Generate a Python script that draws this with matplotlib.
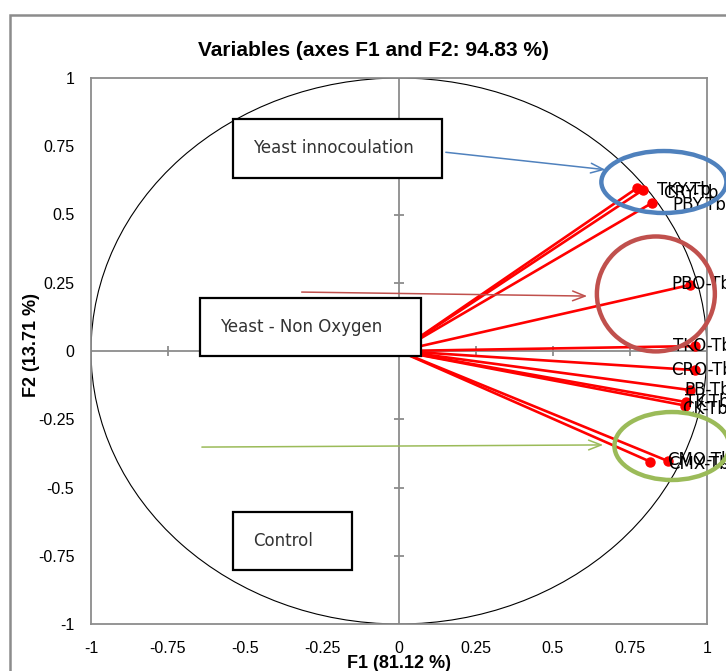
import matplotlib
matplotlib.use('Agg')
import matplotlib.pyplot as plt
import numpy as np
from matplotlib.patches import Ellipse, Rectangle

# fonts
plt.rcParams['font.family'] = ['Liberation Sans', 'DejaVu Sans']

# variable coordinates on F1 / F2
names = ['TKY-Tb', 'CRY-Tb', 'PBY-Tb', 'PBO-Tb', 'TKO-Tb', 'CRO-Tb',
         'PB-Tb', 'TK-Tb', 'CK-Tb', 'CMO-Tb', 'CMX-Tb']
f1 = [0.773, 0.792, 0.821, 0.945, 0.961, 0.961, 0.945, 0.932, 0.930, 0.873, 0.815]
f2 = [0.597, 0.590, 0.542, 0.242, 0.018, -0.070, -0.143, -0.187, -0.200, -0.403, -0.405]
# label offsets in pixels (where the labels ended up in the chart)
lab_dx = [20, 20, 21, -19, -22, -24, -6, -1, -3, -1, 18]
lab_dy = [-2, -3, -2, 1, 0, 0, 0, 0, -3, 1, -2]

ticks = [-1, -0.75, -0.5, -0.25, 0, 0.25, 0.5, 0.75, 1]
tick_labels = ['-1', '-0.75', '-0.5', '-0.25', '0', '0.25', '0.5', '0.75', '1']

title = 'Variables (axes F1 and F2: 94.83 %)'
xlab = 'F1 (81.12 %)'
ylab = 'F2 (13.71 %)'

# group annotations: text, box (x0, x1, y0, y1), arrow start, arrow end
groups = ['Yeast innocoulation', 'Yeast - Non Oxygen', 'Control']
boxes = [(-0.539, 0.140, 0.634, 0.850), (-0.646, 0.071, -0.018, 0.194),
         (-0.539, -0.153, -0.802, -0.590)]
text_x = [-0.475, -0.580, -0.475]
arrow_from = [(0.143, 0.729), (-0.325, 0.216), (-0.649, -0.352)]
arrow_to = [(0.679, 0.663), (0.620, 0.201), (0.672, -0.344)]
ell_center = [(0.860, 0.619), (0.834, 0.209), (0.886, -0.348)]
ell_size = [(0.406, 0.227), (0.383, 0.421), (0.373, 0.249)]
ell_col = ['#4F81BD', '#C0504D', '#9BBB59']

gray = '#8c8c8c'

fig = plt.figure(figsize=(7.26, 6.71), dpi=100)
ax = fig.add_axes([91/726, 47/671, 616/726, 546/671])
ax.set_xlim(-1, 1)
ax.set_ylim(-1, 1)

# outer chart border
fig.patches.append(Rectangle((10/726, -0.2), 1.2, (671-15)/671 + 0.2,
                             transform=fig.transFigure, fill=False,
                             ec=gray, lw=1.8))

for s in ax.spines.values():
    s.set_color(gray)
    s.set_linewidth(1.3)
ax.set_xticks(ticks)
ax.set_yticks(ticks)
ax.set_xticklabels(tick_labels, fontsize=11.5)
ax.set_yticklabels(tick_labels, fontsize=11.5)
ax.tick_params(length=0, pad=12)

# center axes with cross ticks
ax.axhline(0, color=gray, lw=1.3, zorder=1)
ax.axvline(0, color=gray, lw=1.3, zorder=1)
ax.plot(ticks[1:-1], [0]*7, ls='none', marker='|', ms=7, mew=1.3, color=gray, zorder=1)
ax.plot([0]*7, ticks[1:-1], ls='none', marker='_', ms=7, mew=1.3, color=gray, zorder=1)

# correlation circle
ax.add_patch(Ellipse((0, 0), 2, 2, fill=False, ec='black', lw=0.8, zorder=1))

# variable vectors
for i in range(len(names)):
    ax.plot([0, f1[i]], [0, f2[i]], color='red', lw=1.9, zorder=2)
ax.plot(f1, f2, 'o', color='red', ms=6.5, zorder=3)
for i in range(len(names)):
    ax.annotate(names[i], (f1[i], f2[i]), xytext=(lab_dx[i], lab_dy[i]),
                textcoords='offset pixels', ha='left', va='center',
                fontsize=12, family='DejaVu Sans', color='black',
                zorder=4, annotation_clip=False)

# group boxes, arrows and ellipses
for i in range(len(groups)):
    x0, x1, y0, y1 = boxes[i]
    ax.add_patch(Rectangle((x0, y0), x1 - x0, y1 - y0, fc='white', ec='black',
                           lw=1.6, zorder=5))
    ax.text(text_x[i], (y0 + y1) / 2, groups[i], ha='left', va='center',
            fontsize=12, family='DejaVu Sans', color='#333333', zorder=6)
    ax.annotate('', xy=arrow_to[i], xytext=arrow_from[i],
                arrowprops=dict(arrowstyle='->,head_length=0.9,head_width=0.35',
                                color=ell_col[i], lw=1.1), zorder=6)
    ax.add_patch(Ellipse(ell_center[i], ell_size[i][0], ell_size[i][1],
                         fill=False, ec=ell_col[i], lw=3.2, zorder=7,
                         clip_on=False))

fig.text(373/726, 1 - 50/671, title, ha='center', va='center',
         fontsize=15, fontweight='bold')
fig.text(399/726, 1 - 663/671, xlab, ha='center', va='center',
         fontsize=13, fontweight='bold')
fig.text(31/726, 1 - 345/671, ylab, ha='center', va='center',
         fontsize=13, fontweight='bold', rotation=90)

fig.savefig('out.png', dpi=100)
